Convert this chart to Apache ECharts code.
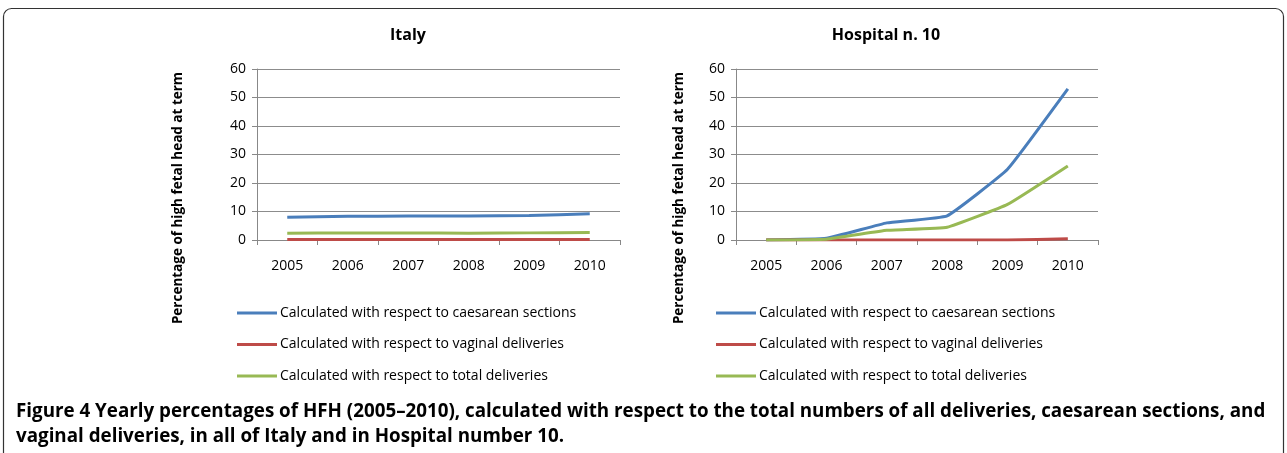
<!DOCTYPE html>
<html>
<head>
<meta charset="utf-8">
<script src="https://cdn.jsdelivr.net/npm/echarts@6/dist/echarts.min.js"></script>
<style>
  html, body { margin: 0; padding: 0; background: #fff; }
  #chart { width: 1287px; height: 453px; }
</style>
</head>
<body>
<div id="chart"></div>
<script>
// years on the x axis
var years = ['2005', '2006', '2007', '2008', '2009', '2010'];
var seriesNames = [
    'Calculated with respect to caesarean sections',
    'Calculated with respect to vaginal deliveries',
    'Calculated with respect to total deliveries'
];

// Italy
var italyCaesarean = [8.0, 8.3, 8.4, 8.4, 8.6, 9.2];
var italyVaginal = [0.2, 0.2, 0.2, 0.2, 0.2, 0.2];
var italyTotal = [2.4, 2.5, 2.5, 2.4, 2.5, 2.6];

// Hospital n. 10
var hospCaesarean = [0.0, 0.6, 6.0, 8.5, 24.8, 53.0];
var hospVaginal = [0.0, 0.0, 0.0, 0.0, 0.0, 0.4];
var hospTotal = [0.0, 0.3, 3.4, 4.5, 12.5, 26.0];

var colors = ['#4A7EBB', '#BE4B48', '#98B954'];
var font = '"Open Sans", "Noto Sans", sans-serif';
var yName = 'Percentage of high fetal head at term';

function xAx(idx) {
    return {
        type: 'category', gridIndex: idx, data: years, boundaryGap: true,
        axisLine: { lineStyle: { color: '#888', width: 1 } },
        axisTick: { show: true, length: 5, lineStyle: { color: '#888' } },
        axisLabel: { color: '#000', fontSize: 14, fontFamily: font, margin: 19 }
    };
}
function yAx(idx) {
    return {
        type: 'value', gridIndex: idx, min: 0, max: 60, interval: 10,
        axisLine: { show: true, lineStyle: { color: '#888', width: 1 } },
        axisTick: { show: true, length: 5, lineStyle: { color: '#888' } },
        axisLabel: { color: '#000', fontSize: 14, fontFamily: font, margin: 11 },
        splitLine: { lineStyle: { color: '#8c8c8c', width: 1 } }
    };
}
function line(name, data, color, idx) {
    return {
        name: name, type: 'line', xAxisIndex: idx, yAxisIndex: idx, data: data,
        smooth: 0.1, symbol: 'none', color: color,
        lineStyle: { width: 3, color: color }
    };
}
function legend(left) {
    return {
        orient: 'vertical', left: left, top: 306, padding: 0, itemWidth: 40, itemHeight: 3,
        itemGap: 17.5, icon: 'rect', data: seriesNames, selectedMode: false,
        textStyle: { color: '#000', fontSize: 14, fontFamily: font, padding: [0, 0, 0, -2] }
    };
}
function axisName(x) {
    return {
        type: 'text', x: x, y: 198, rotation: Math.PI / 2, silent: true,
        style: { text: yName, font: 'bold 13.5px ' + font, fill: '#000',
                 align: 'center', verticalAlign: 'middle' }
    };
}

var chart = echarts.init(document.getElementById('chart'));
chart.setOption({
    animation: false,
    color: colors,
    title: [
        { text: 'Italy', left: 403, top: 22, textAlign: 'center',
          textStyle: { fontSize: 16, fontWeight: 'bold', color: '#000', fontFamily: font } },
        { text: 'Hospital n. 10', left: 881, top: 22, textAlign: 'center',
          textStyle: { fontSize: 16, fontWeight: 'bold', color: '#000', fontFamily: font } }
    ],
    grid: [
        { left: 257, top: 69, width: 363, height: 171 },
        { left: 736, top: 69, width: 362, height: 171 }
    ],
    xAxis: [xAx(0), xAx(1)],
    yAxis: [yAx(0), yAx(1)],
    legend: [legend(237), legend(716)],
    series: [
        line(seriesNames[0], italyCaesarean, colors[0], 0),
        line(seriesNames[1], italyVaginal, colors[1], 0),
        line(seriesNames[2], italyTotal, colors[2], 0),
        line(seriesNames[0], hospCaesarean, colors[0], 1),
        line(seriesNames[1], hospVaginal, colors[1], 1),
        line(seriesNames[2], hospTotal, colors[2], 1)
    ],
    graphic: [
        { type: 'rect', shape: { x: 3.5, y: 8.5, width: 1280, height: 470, r: 8 },
          style: { fill: 'none', stroke: '#333', lineWidth: 1.2 }, silent: true },
        axisName(178),
        axisName(679),
        { type: 'text', left: 16, top: 399,
          style: { text: 'Figure 4 Yearly percentages of HFH (2005–2010), calculated with respect to the total numbers of all deliveries, caesarean sections, and\nvaginal deliveries, in all of Italy and in Hospital number 10.',
                   font: 'bold 18.8px ' + font, fill: '#000', lineHeight: 25 } }
    ]
});
</script>
</body>
</html>
